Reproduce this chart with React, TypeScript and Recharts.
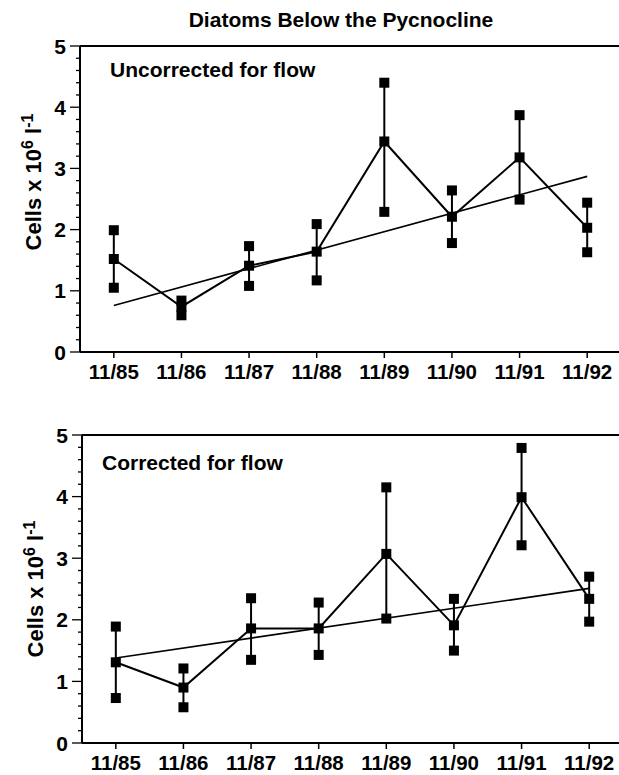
import React from 'react'
import { ComposedChart, Line, XAxis, YAxis, ErrorBar, ReferenceLine } from 'recharts'

const FONT = '"Liberation Sans", Arial, Helvetica, sans-serif'

// sampling dates (November of each year)
const years = ['11/85', '11/86', '11/87', '11/88', '11/89', '11/90', '11/91', '11/92']

// diatom counts, cells x 10^6 per litre
const uncorrectedMean = [1.52, 0.74, 1.41, 1.64, 3.44, 2.21, 3.18, 2.03]
const uncorrectedHigh = [1.99, 0.84, 1.73, 2.09, 4.4, 2.64, 3.87, 2.44]
const uncorrectedLow = [1.05, 0.6, 1.08, 1.17, 2.29, 1.78, 2.49, 1.63]
const uncorrectedTrend = [0.76, 2.87]

const correctedMean = [1.31, 0.9, 1.86, 1.86, 3.07, 1.91, 3.99, 2.34]
const correctedHigh = [1.89, 1.21, 2.35, 2.28, 4.15, 2.34, 4.79, 2.7]
const correctedLow = [0.73, 0.58, 1.35, 1.43, 2.02, 1.5, 3.21, 1.97]
const correctedTrend = [1.38, 2.51]

const xTicks = [0, 1, 2, 3, 4, 5, 6, 7]
const yTicks = [
  0, 0.2, 0.4, 0.6, 0.8, 1, 1.2, 1.4, 1.6, 1.8, 2, 2.2, 2.4, 2.6, 2.8, 3,
  3.2, 3.4, 3.6, 3.8, 4, 4.2, 4.4, 4.6, 4.8, 5,
]

function buildRows(mean: number[], high: number[], low: number[], trend: number[]) {
  const last = years.length - 1
  return years.map((year, i) => ({
    i,
    year,
    mean: mean[i],
    high: high[i],
    low: low[i],
    err: [mean[i] - low[i], high[i] - mean[i]],
    trend: i === 0 ? trend[0] : i === last ? trend[1] : null,
  }))
}

const Square = (props: any) => {
  const { cx, cy, index } = props
  if (cx == null || cy == null) return <g key={`sq-${index}`} />
  return <rect key={`sq-${index}`} x={cx - 5} y={cy - 5} width={10} height={10} fill="#000" />
}

const YTick = (props: any) => {
  const { x, y, payload } = props
  const v = payload.value
  const major = Math.abs(v - Math.round(v)) < 1e-6
  const len = major ? 10 : 4
  return (
    <g>
      <line x1={x - len} x2={x} y1={y} y2={y} stroke="#000" strokeWidth={1.3} />
      {major && (
        <text
          x={x - len - 4}
          y={y}
          dy="0.36em"
          textAnchor="end"
          fill="#000"
          fontSize={21}
          fontWeight={700}
          fontFamily={FONT}
        >
          {Math.round(v)}
        </text>
      )}
    </g>
  )
}

const yLabel = (shift: number) => (props: any) => {
  const vb = props.viewBox
  const cx = vb.x + 41
  const cy = vb.y + vb.height / 2 + shift
  return (
    <text
      x={cx}
      y={cy}
      transform={`rotate(-90, ${cx}, ${cy})`}
      textAnchor="middle"
      fill="#000"
      fontSize={22}
      fontWeight={700}
      fontFamily={FONT}
    >
      Cells x 10
      <tspan dy={-8} fontSize={16}>6</tspan>
      <tspan dy={8}> l</tspan>
      <tspan dy={-8} fontSize={16}>-1</tspan>
    </text>
  )
}

interface PanelProps {
  rows: ReturnType<typeof buildRows>
  height: number
  top: number
  axisHeight: number
  labelShift: number
}

function Panel({ rows, height, top, axisHeight, labelShift }: PanelProps) {
  return (
    <ComposedChart
      width={640}
      height={height}
      data={rows}
      margin={{ top, right: 19, left: 0, bottom: 0 }}
    >
      <XAxis
        type="number"
        dataKey="i"
        domain={[-0.5, 7.5]}
        ticks={xTicks}
        interval={0}
        tickFormatter={(v) => years[v]}
        height={axisHeight}
        axisLine={{ stroke: '#000', strokeWidth: 2 }}
        tickLine={{ stroke: '#000', strokeWidth: 1.5 }}
        tickSize={6}
        tickMargin={6}
        tick={{ fill: '#000', fontSize: 20.5, fontWeight: 700, fontFamily: FONT }}
      />
      <YAxis
        type="number"
        domain={[0, 5]}
        ticks={yTicks}
        interval={0}
        width={80}
        axisLine={{ stroke: '#000', strokeWidth: 2 }}
        tickLine={false}
        tickSize={0}
        tickMargin={0}
        tick={<YTick />}
        label={yLabel(labelShift)}
      />
      <ReferenceLine y={5} stroke="#000" strokeWidth={2} />
      <Line
        dataKey="trend"
        connectNulls
        stroke="#000"
        strokeWidth={1.6}
        dot={false}
        activeDot={false}
        isAnimationActive={false}
      />
      <Line
        dataKey="mean"
        stroke="#000"
        strokeWidth={2}
        dot={Square}
        activeDot={false}
        isAnimationActive={false}
      >
        <ErrorBar dataKey="err" width={0} stroke="#000" strokeWidth={2} isAnimationActive={false} />
      </Line>
      <Line dataKey="high" stroke="none" dot={Square} activeDot={false} isAnimationActive={false} />
      <Line dataKey="low" stroke="none" dot={Square} activeDot={false} isAnimationActive={false} />
    </ComposedChart>
  )
}

const uncorrectedRows = buildRows(uncorrectedMean, uncorrectedHigh, uncorrectedLow, uncorrectedTrend)
const correctedRows = buildRows(correctedMean, correctedHigh, correctedLow, correctedTrend)

export default function App() {
  const textStyle = { fill: '#000', fontWeight: 700, fontFamily: FONT }
  return (
    <div
      style={{
        position: 'absolute',
        left: 0,
        top: 0,
        width: 619,
        height: 775,
        overflow: 'hidden',
        background: '#fff',
      }}
    >
      <div style={{ position: 'absolute', left: 0, top: 0 }}>
        <Panel rows={uncorrectedRows} height={392} top={46} axisHeight={40} labelShift={-17} />
      </div>
      <div style={{ position: 'absolute', left: 2, top: 400 }}>
        <Panel rows={correctedRows} height={375} top={35} axisHeight={32} labelShift={0} />
      </div>
      <svg
        width={619}
        height={775}
        style={{ position: 'absolute', left: 0, top: 0, pointerEvents: 'none' }}
      >
        <text x={341} y={27} textAnchor="middle" fontSize={21} {...textStyle}>
          Diatoms Below the Pycnocline
        </text>
        <text x={110} y={77} fontSize={21} {...textStyle}>
          Uncorrected for flow
        </text>
        <text x={102} y={470} fontSize={21} {...textStyle}>
          Corrected for flow
        </text>
      </svg>
    </div>
  )
}
